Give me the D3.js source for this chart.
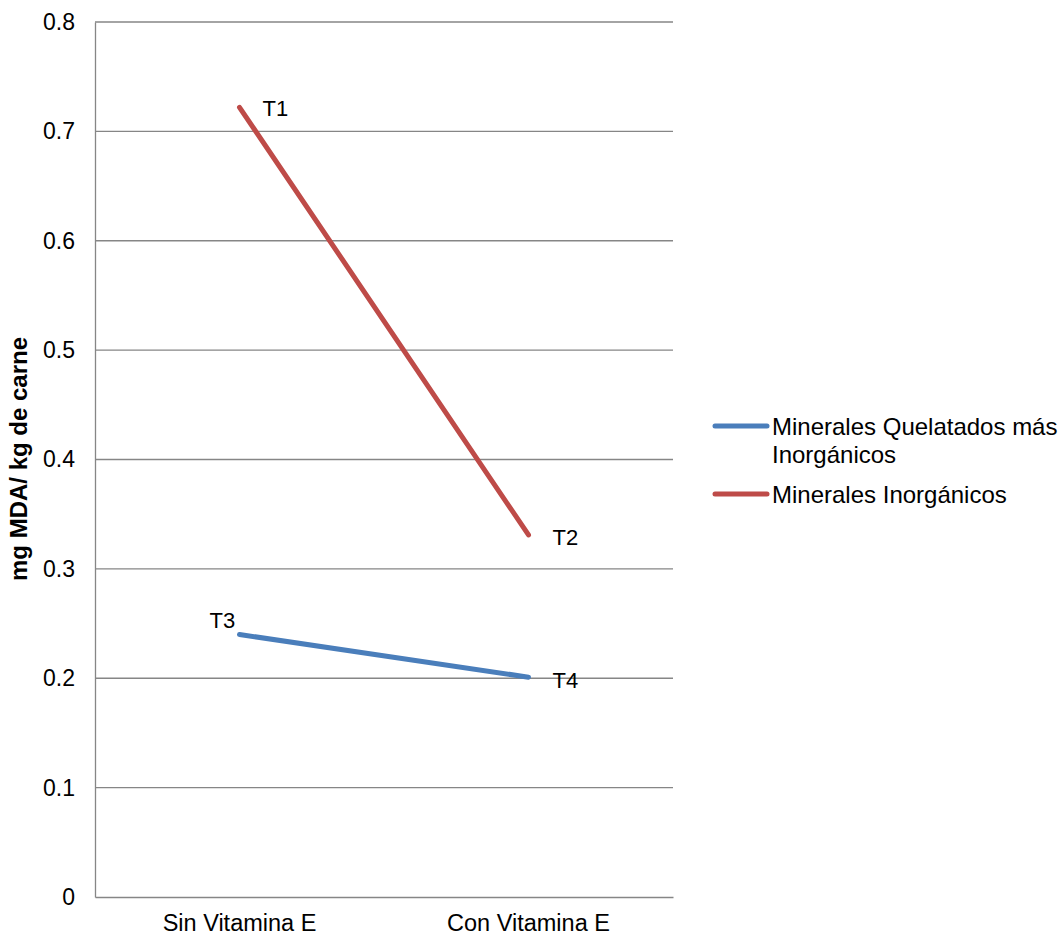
<!DOCTYPE html>
<html><head><meta charset="utf-8">
<script src="https://cdn.jsdelivr.net/npm/d3@7"></script>
<style>body{margin:0;background:#fff}text{font-family:"Liberation Sans",Arial,sans-serif}</style>
</head><body>
<svg id="c" width="1062" height="937"></svg>
<script>
const categories = ["Sin Vitamina E", "Con Vitamina E"];
const seriesNames = ["Minerales Quelatados más Inorgánicos", "Minerales Inorgánicos"];
const quelatados = [0.240, 0.201];
const inorganicos = [0.722, 0.331];
const pointLabelsQ = ["T3", "T4"];
const pointLabelsI = ["T1", "T2"];
const yTicks = [0, 0.1, 0.2, 0.3, 0.4, 0.5, 0.6, 0.7, 0.8];
const colors = ["#4a7ebb", "#be4b48"];

const FONT = "Liberation Sans, Arial, sans-serif";
const svg = d3.select("#c");
const L = 95, R = 673, T = 22, B = 897;
const x = d3.scaleBand().domain(categories).range([L, R]);
const y = d3.scaleLinear().domain([0, 0.8]).range([B, T]);
const cx = c => x(c) + x.bandwidth() / 2;

// gridlines
svg.append("g").selectAll("line").data(yTicks.filter(d => d > 0)).join("line")
  .attr("x1", L).attr("x2", R).attr("y1", d => y(d)).attr("y2", d => y(d))
  .attr("stroke", "#868686").attr("stroke-width", 1.3);

// axes
const ya = svg.append("g").attr("transform", `translate(${L},0)`)
  .call(d3.axisLeft(y).tickValues(yTicks).tickFormat(d => d === 0 ? "0" : d3.format(".1f")(d)).tickSize(0).tickPadding(20));
ya.select(".domain").attr("stroke", "#868686").attr("stroke-width", 1.3);
ya.selectAll("text").attr("font-size", 23).attr("fill", "#000").attr("font-family", FONT);

const xa = svg.append("g").attr("transform", `translate(0,${B})`)
  .call(d3.axisBottom(x).tickSize(0).tickPadding(17));
xa.select(".domain").attr("stroke", "#868686").attr("stroke-width", 1.3);
xa.selectAll("text").attr("font-size", 23.5).attr("fill", "#000").attr("font-family", FONT);

// axis title
svg.append("text").attr("transform", "translate(27,459) rotate(-90)")
  .attr("text-anchor", "middle").attr("font-size", 24).attr("font-weight", "bold").text("mg MDA/ kg de carne");

// lines
const line = d3.line().x((d, i) => cx(categories[i])).y(d => y(d));
[quelatados, inorganicos].forEach((s, k) => {
  svg.append("path").datum(s).attr("d", line).attr("fill", "none")
    .attr("stroke", colors[k]).attr("stroke-width", 5).attr("stroke-linecap", "round");
});

// point labels
const lab = (txt, px, py, dx, dy) => svg.append("text").attr("x", px + dx).attr("y", py + dy)
  .attr("font-size", 22).text(txt);
lab(pointLabelsI[0], cx(categories[0]), y(inorganicos[0]), 23, 9);
lab(pointLabelsI[1], cx(categories[1]), y(inorganicos[1]), 24, 10);
lab(pointLabelsQ[0], cx(categories[0]), y(quelatados[0]), -30, -7);
lab(pointLabelsQ[1], cx(categories[1]), y(quelatados[1]), 24, 11);

// legend
const lg = svg.append("g");
const legY = [426, 494];
seriesNames.forEach((n, k) => {
  lg.append("line").attr("x1", 715).attr("x2", 767).attr("y1", legY[k]).attr("y2", legY[k])
    .attr("stroke", colors[k]).attr("stroke-width", 5).attr("stroke-linecap", "round");
});
const t1 = lg.append("text").attr("x", 772).attr("y", 435).attr("font-size", 24);
t1.append("tspan").attr("x", 772).text("Minerales Quelatados más");
t1.append("tspan").attr("x", 772).attr("dy", 28).text("Inorgánicos");
lg.append("text").attr("x", 772).attr("y", 503).attr("font-size", 24).text(seriesNames[1]);
</script>
</body></html>
